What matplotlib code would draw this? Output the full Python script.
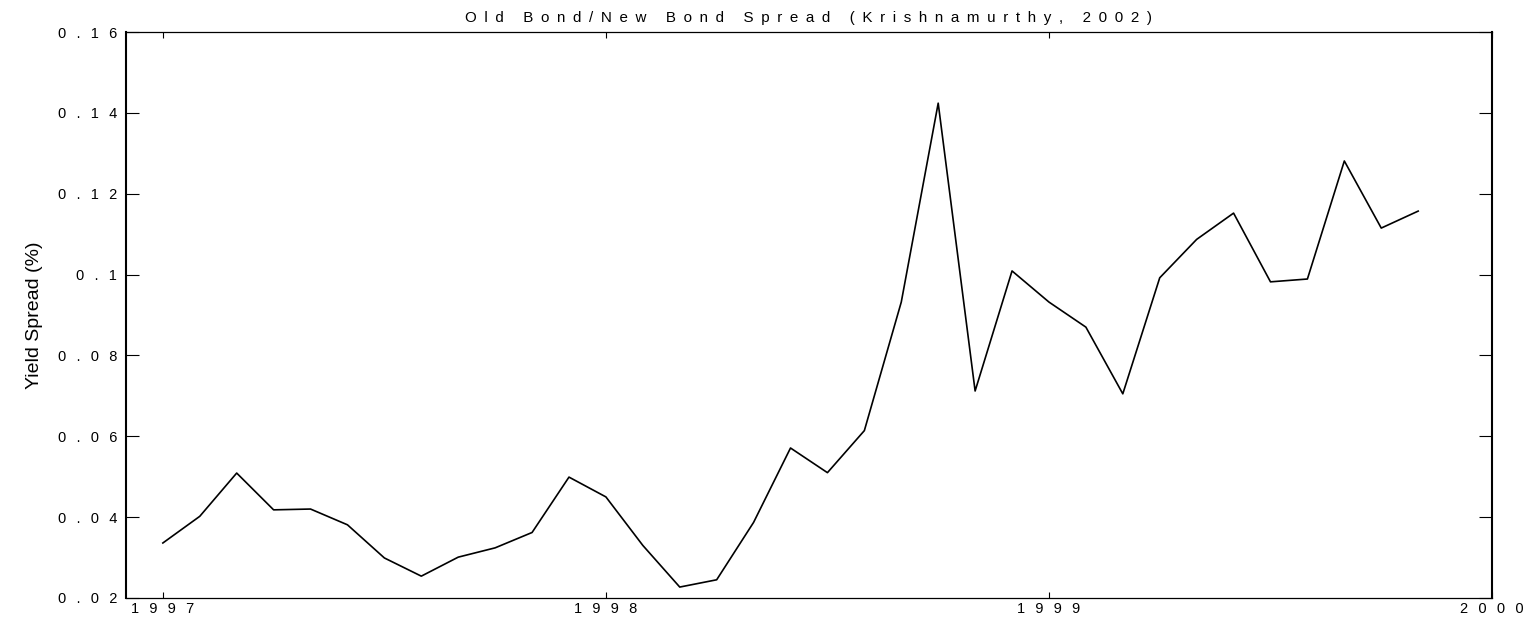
import numpy as np
import matplotlib
matplotlib.use("Agg")
import matplotlib.pyplot as plt

# monthly observations, Jan 1997 .. Nov 1999
start_year = 1997
spread = [0.0336, 0.0402, 0.0509, 0.0418, 0.0420, 0.0381, 0.0299, 0.0254,
          0.0301, 0.0324, 0.0362, 0.0499, 0.0450, 0.0330, 0.0227, 0.0245,
          0.0387, 0.0571, 0.0510, 0.0614, 0.0932, 0.1424, 0.0712, 0.1009,
          0.0932, 0.0870, 0.0705, 0.0992, 0.1087, 0.1152, 0.0982, 0.0989,
          0.1281, 0.1115, 0.1157]
year_ticks = [1997, 1998, 1999, 2000]
spread_ticks = [0.02, 0.04, 0.06, 0.08, 0.1, 0.12, 0.14, 0.16]
tick_labels = ['0.02', '0.04', '0.06', '0.08', '0.1', '0.12', '0.14', '0.16']
title = 'Old Bond/New Bond Spread (Krishnamurthy, 2002)'

dates = start_year + np.arange(len(spread)) / 12.0


def spaced(s, gap):
    # the original picture has horizontally stretched lettering
    return gap.join(s)


wide = '\u2002\u2009'
plt.rcParams['font.family'] = ['Liberation Sans', 'DejaVu Sans']

fig = plt.figure(figsize=(15.32, 6.18), dpi=100)
ax = fig.add_axes([0.0822, 0.0324, 0.8917, 0.9158])
ax.plot(dates, spread, color='black', linewidth=1.2)

ax.set_xlim(start_year - 1 / 12.0, 2000)
ax.set_ylim(0.02, 0.16)
ax.set_xticks(year_ticks)
ax.set_xticklabels([spaced(str(y), wide) for y in year_ticks])
ax.set_yticks(spread_ticks)
ax.set_yticklabels([spaced(t, wide) for t in tick_labels])
ax.tick_params(axis='x', direction='in', length=4.3, width=0.8, top=True,
               labelsize=10.5, pad=3)
ax.tick_params(axis='y', direction='in', length=9.5, width=0.8, right=True,
               labelsize=10.5, pad=6.5)
ax.spines['left'].set_linewidth(1.5)
ax.spines['right'].set_linewidth(1.5)
ax.spines['top'].set_linewidth(0.9)
ax.spines['bottom'].set_linewidth(0.9)

ax.set_title(spaced(title, '\u2002'), fontsize=10.9, pad=7)
ax.set_ylabel('Yield Spread (%)', fontsize=14)
ax.yaxis.set_label_coords(-0.0608, 0.5)

fig.savefig('out.png', dpi=100)
